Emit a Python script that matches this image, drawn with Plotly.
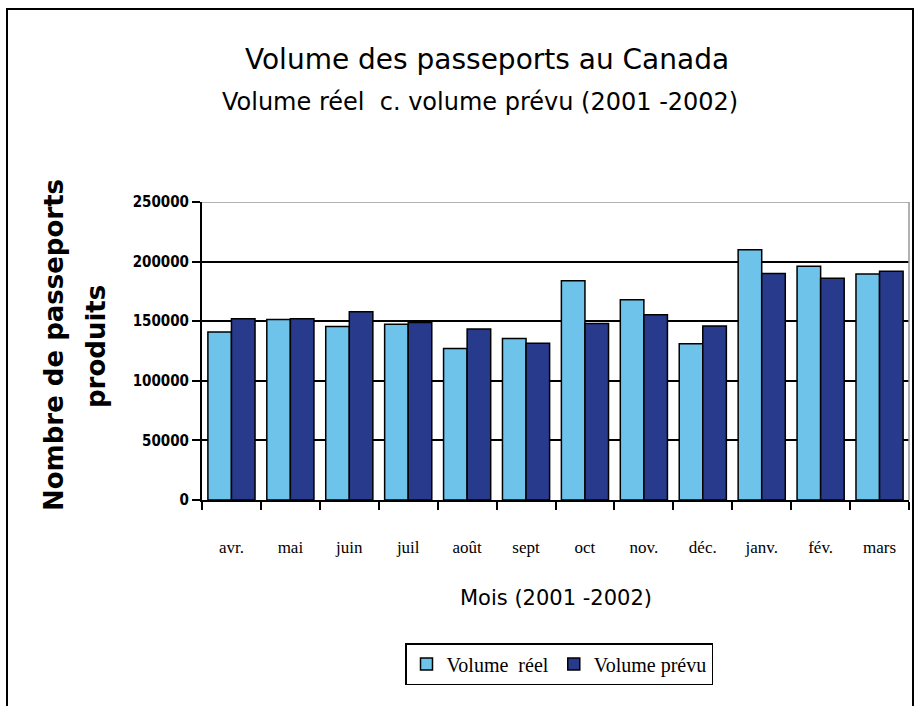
import plotly.graph_objects as go

months = ["avr.", "mai", "juin", "juil", "août", "sept", "oct", "nov.", "déc.", "janv.", "fév.", "mars"]
volume_reel = [141000, 151500, 145500, 147500, 127000, 135500, 184000, 168000, 131000, 210000, 196000, 189500]
volume_prevu = [152000, 152000, 158000, 149000, 143500, 131500, 148000, 155500, 146000, 190000, 186000, 192000]
y_ticks = [0, 50000, 100000, 150000, 200000, 250000]

W, H = 914, 706
L, R, T, B = 202, 5, 202, 206
pw = W - L - R
ph = H - T - B


def px2paper_x(px):
    return (px - L) / pw


def px2paper_y(py):
    return (H - B - py) / ph


fig = go.Figure()
fig.add_trace(go.Bar(x=months, y=volume_reel, name="Volume  réel",
                     marker=dict(color="#6EC3EB", line=dict(color="black", width=1.5))))
fig.add_trace(go.Bar(x=months, y=volume_prevu, name="Volume prévu",
                     marker=dict(color="#283A8C", line=dict(color="black", width=1.5))))

shapes = [
    dict(type="line", xref="paper", yref="y", x0=0, x1=1, y0=250000, y1=250000,
         line=dict(color="#999999", width=1.5), layer="above"),
    dict(type="line", xref="paper", yref="paper", x0=1, x1=1, y0=0, y1=1,
         line=dict(color="#999999", width=1.5), layer="above"),
    dict(type="rect", xref="paper", yref="paper",
         x0=px2paper_x(7), x1=px2paper_x(913), y0=px2paper_y(720), y1=px2paper_y(9),
         line=dict(color="black", width=2), fillcolor="rgba(0,0,0,0)"),
]

annotations = [
    dict(text="Volume des passeports au Canada", xref="paper", yref="paper",
         x=px2paper_x(487), y=px2paper_y(60), xanchor="center", yanchor="middle",
         showarrow=False, font=dict(family="DejaVu Sans", size=28, color="black")),
    dict(text="Volume réel  c. volume prévu (2001 -2002)", xref="paper", yref="paper",
         x=px2paper_x(480), y=px2paper_y(102), xanchor="center", yanchor="middle",
         showarrow=False, font=dict(family="DejaVu Sans", size=24, color="black")),
    dict(text="Nombre de passeports", xref="paper", yref="paper",
         x=px2paper_x(54), y=px2paper_y(345), xanchor="center", yanchor="middle", textangle=-90,
         showarrow=False, font=dict(family="DejaVu Sans", size=26, color="black", weight="bold")),
    dict(text="produits", xref="paper", yref="paper",
         x=px2paper_x(96), y=px2paper_y(347), xanchor="center", yanchor="middle", textangle=-90,
         showarrow=False, font=dict(family="DejaVu Sans", size=26, color="black", weight="bold")),
    dict(text="Mois (2001 -2002)", xref="paper", yref="paper",
         x=px2paper_x(556), y=px2paper_y(598), xanchor="center", yanchor="middle",
         showarrow=False, font=dict(family="DejaVu Sans", size=21, color="black")),
]

fig.update_layout(
    width=W, height=H,
    margin=dict(l=L, r=R, t=T, b=B),
    paper_bgcolor="white", plot_bgcolor="white",
    barmode="group", bargap=0.2, bargroupgap=0.0,
    shapes=shapes, annotations=annotations,
    font=dict(family="Liberation Sans", color="black"),
    legend=dict(
        orientation="h", x=px2paper_x(559), xanchor="center", xref="paper",
        y=px2paper_y(643), yanchor="top",
        bordercolor="black", borderwidth=1.5, bgcolor="white",
        font=dict(family="Liberation Serif", size=20, color="black"),
        traceorder="normal", itemwidth=30,
    ),
    xaxis=dict(
        type="category",
        showline=True, linecolor="black", linewidth=2,
        ticks="outside", tickson="boundaries", ticklen=8, tickcolor="black", tickwidth=2,
        ticklabelstandoff=31,
        tickfont=dict(family="Liberation Serif", size=17, color="black"),
        showgrid=False,
    ),
    yaxis=dict(
        range=[0, 250000], tickvals=y_ticks, ticktext=[str(v) for v in y_ticks],
        showline=True, linecolor="black", linewidth=2,
        ticks="outside", ticklen=8, tickcolor="black", tickwidth=2,
        tickfont=dict(family="DejaVu Sans Condensed", size=15, color="black", weight="bold"),
        showgrid=True, gridcolor="black", gridwidth=1.5,
        zeroline=False,
    ),
)

fig.write_html("out.html")
